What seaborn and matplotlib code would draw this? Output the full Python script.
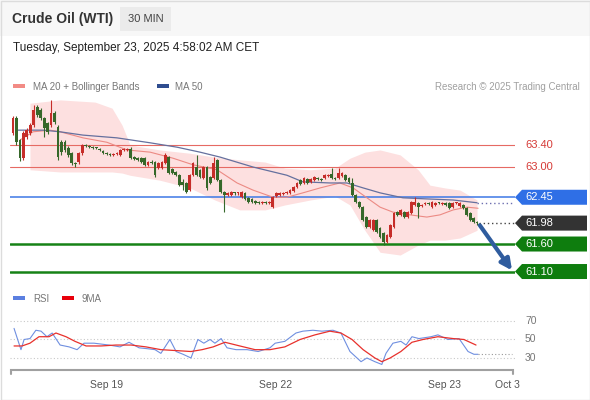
import numpy as np
import pandas as pd
import matplotlib

matplotlib.use('Agg')
import matplotlib.pyplot as plt
import seaborn as sns
from matplotlib.patches import Rectangle, Polygon

# ==========================================
# data (30 min candles, WTI)
# ==========================================
opens = [63.62, 63.89, 63.49, 63.16, 63.55, 63.62, 63.76, 64.09, 64.04, 63.89,
         63.80, 63.76, 63.98, 63.73, 63.45, 63.45, 63.35, 63.25, 63.07, 63.09,
         63.25, 63.40, 63.38, 63.36, 63.35, 63.33, 63.29, 63.25, 63.23, 63.22,
         63.24, 63.22, 63.31, 63.31, 63.33, 63.18, 63.16, 63.16, 63.16, 63.04,
         63.08, 63.09, 62.98, 62.98, 63.07, 63.18, 62.96, 62.91, 62.85, 62.73,
         62.71, 62.58, 62.85, 63.00, 62.95, 62.80, 63.00, 62.82, 62.80, 63.13,
         62.76, 62.55, 62.49, 62.49, 62.53, 62.52, 62.45, 62.53, 62.44, 62.42,
         62.38, 62.36, 62.35, 62.36, 62.35, 62.27, 62.47, 62.49, 62.51, 62.53,
         62.53, 62.56, 62.64, 62.76, 62.71, 62.78, 62.73, 62.76, 62.80, 62.78,
         62.80, 62.84, 62.87, 62.80, 62.80, 62.84, 62.85, 62.80, 62.71, 62.49,
         62.36, 62.27, 62.09, 61.91, 61.85, 62.04, 61.89, 61.80, 61.64, 61.73,
         61.91, 62.18, 62.13, 62.18, 62.09, 62.16, 62.31, 62.35, 62.29, 62.33,
         62.34, 62.27, 62.31, 62.35, 62.33, 62.35, 62.35, 62.27, 62.34, 62.29,
         62.31, 62.25, 62.16, 62.07, 62.00]
highs = [63.93, 63.93, 63.51, 63.65, 63.71, 63.80, 64.13, 64.13, 64.07, 63.91,
         63.82, 64.22, 64.02, 63.76, 63.49, 63.49, 63.38, 63.27, 63.09, 63.27,
         63.42, 63.42, 63.40, 63.38, 63.37, 63.35, 63.31, 63.27, 63.25, 63.26,
         63.28, 63.33, 63.34, 63.35, 63.36, 63.20, 63.18, 63.18, 63.18, 63.11,
         63.13, 63.11, 63.09, 63.11, 63.25, 63.20, 62.98, 62.93, 62.87, 62.78,
         62.73, 62.87, 63.09, 63.22, 62.97, 63.02, 63.02, 62.84, 63.18, 63.15,
         62.78, 62.57, 62.54, 62.57, 62.55, 62.55, 62.57, 62.55, 62.46, 62.44,
         62.40, 62.38, 62.38, 62.38, 62.38, 62.47, 62.55, 62.55, 62.55, 62.57,
         62.60, 62.66, 62.73, 62.78, 62.82, 62.80, 62.80, 62.84, 62.82, 62.80,
         62.87, 62.87, 62.98, 62.82, 62.98, 62.91, 62.87, 62.82, 62.80, 62.51,
         62.38, 62.29, 62.11, 62.06, 62.06, 62.06, 61.91, 61.82, 61.78, 61.97,
         62.18, 62.20, 62.24, 62.20, 62.20, 62.38, 62.45, 62.37, 62.33, 62.36,
         62.36, 62.38, 62.37, 62.37, 62.37, 62.37, 62.37, 62.37, 62.37, 62.37,
         62.33, 62.27, 62.18, 62.09, 62.02]
lows = [63.58, 63.40, 63.11, 63.13, 63.51, 63.58, 63.73, 63.91, 63.85, 63.55,
        63.60, 63.73, 63.78, 63.13, 63.22, 63.27, 63.18, 63.04, 63.00, 63.05,
        63.22, 63.36, 63.34, 63.33, 63.32, 63.29, 63.23, 63.22, 63.20, 63.20,
        63.22, 63.20, 63.29, 63.29, 63.15, 63.13, 63.11, 63.07, 63.02, 63.02,
        63.05, 62.82, 62.96, 62.96, 63.05, 62.87, 62.87, 62.83, 62.65, 62.58,
        62.53, 62.56, 62.83, 62.83, 62.80, 62.78, 62.58, 62.69, 62.78, 62.74,
        62.53, 62.18, 62.47, 62.47, 62.50, 62.50, 62.43, 62.40, 62.34, 62.34,
        62.33, 62.33, 62.33, 62.33, 62.33, 62.25, 62.45, 62.47, 62.49, 62.51,
        62.51, 62.54, 62.62, 62.67, 62.69, 62.69, 62.71, 62.74, 62.76, 62.74,
        62.78, 62.82, 62.78, 62.76, 62.78, 62.82, 62.74, 62.71, 62.47, 62.34,
        62.25, 62.02, 61.89, 61.89, 61.83, 61.80, 61.71, 61.58, 61.62, 61.71,
        61.89, 62.11, 62.11, 62.07, 62.07, 62.14, 62.29, 62.07, 62.27, 62.31,
        62.31, 62.25, 62.29, 62.32, 62.31, 62.29, 62.23, 62.25, 62.32, 62.27,
        62.23, 62.11, 62.02, 61.98, 61.95]
closes = [63.89, 63.45, 63.16, 63.62, 63.67, 63.76, 64.04, 63.95, 63.89, 63.71,
          63.64, 63.98, 63.82, 63.18, 63.27, 63.31, 63.22, 63.07, 63.05, 63.25,
          63.40, 63.38, 63.36, 63.35, 63.34, 63.31, 63.25, 63.24, 63.22, 63.24,
          63.26, 63.31, 63.32, 63.33, 63.16, 63.15, 63.13, 63.09, 63.04, 63.09,
          63.07, 62.85, 63.07, 63.09, 63.22, 62.89, 62.89, 62.85, 62.67, 62.67,
          62.55, 62.85, 63.07, 62.85, 62.82, 63.00, 62.62, 62.71, 63.07, 62.76,
          62.55, 62.49, 62.52, 62.55, 62.52, 62.53, 62.55, 62.42, 62.36, 62.36,
          62.35, 62.35, 62.36, 62.35, 62.36, 62.45, 62.53, 62.53, 62.53, 62.55,
          62.58, 62.64, 62.71, 62.69, 62.80, 62.71, 62.78, 62.82, 62.78, 62.76,
          62.85, 62.85, 62.80, 62.78, 62.89, 62.89, 62.76, 62.73, 62.49, 62.36,
          62.27, 62.04, 61.91, 62.04, 62.04, 61.82, 61.73, 61.64, 61.76, 61.95,
          62.16, 62.13, 62.22, 62.09, 62.18, 62.36, 62.36, 62.27, 62.31, 62.34,
          62.33, 62.36, 62.35, 62.34, 62.35, 62.31, 62.25, 62.35, 62.35, 62.35,
          62.25, 62.13, 62.04, 62.00, 61.98]

# moving averages / bollinger, read at candle positions
ma50_x = [1.4, 8.7, 13.6, 20.2, 30.0, 39.6, 47.4, 54.0, 59.8, 69.3, 79.1, 83.7,
          91.5, 96.4, 101.1, 106.0, 112.6, 119.5, 127.1, 134.0]
ma50 = [63.67, 63.67, 63.64, 63.58, 63.53, 63.44, 63.36, 63.27, 63.18, 63.00, 62.85, 62.73,
        62.71, 62.71, 62.62, 62.53, 62.44, 62.42, 62.40, 62.35]
ma20_x = [2.0, 5.8, 10.7, 13.6, 20.2, 27.1, 32.9, 39.6, 46.2, 52.0, 58.9, 64.7, 69.3, 75.1,
          79.1, 83.7, 88.7, 94.4, 98.2, 102.2, 106.0, 109.7, 114.6, 119.5, 123.3, 127.1,
          131.1, 134.3]
ma20 = [63.49, 63.64, 63.67, 63.64, 63.53, 63.45, 63.31, 63.27, 63.16, 63.04, 62.95, 62.71,
        62.58, 62.45, 62.45, 62.53, 62.62, 62.71, 62.62, 62.44, 62.27, 62.18, 62.13, 62.09,
        62.13, 62.22, 62.27, 62.25]
bb_x = [4.9, 13.6, 23.7, 28.6, 31.5, 33.8, 42.4, 51.1, 58.3, 65.5, 72.8, 78.5, 85.8, 93.0,
        97.3, 101.6, 106.0, 111.8, 117.0, 120.4, 124.7, 129.1, 134.0]
bb_upper = [64.16, 64.22, 64.18, 64.07, 63.76, 63.40, 63.31, 63.25, 63.18, 63.13, 63.09, 62.98,
            62.95, 62.98, 63.16, 63.27, 63.31, 63.22, 62.95, 62.67, 62.62, 62.58, 62.40]
bb_lower = [62.95, 62.91, 62.91, 62.91, 62.89, 62.85, 62.76, 62.62, 62.40, 62.22, 62.22, 62.31,
            62.40, 62.47, 62.31, 61.85, 61.45, 61.40, 61.58, 61.67, 61.67, 61.71, 61.85]

# RSI panel
rsi_x = [0.3, 2.3, 3.2, 4.9, 6.6, 8.1, 9.8, 11.3, 13.6, 16.2, 18.5, 20.5, 23.4, 27.7, 30.9,
         33.5, 36.4, 38.9, 41.0, 42.7, 45.3, 47.1, 49.1, 51.4, 53.4, 55.1, 56.9, 58.3, 60.1,
         61.8, 64.4, 67.6, 70.8, 74.2, 75.7, 78.5, 81.7, 83.7, 86.6, 89.2, 92.4, 94.7, 97.3,
         100.5, 102.2, 104.5, 106.5, 107.7, 109.7, 112.0, 113.5, 115.2, 117.2, 120.7, 122.7,
         125.6, 128.8, 131.4, 133.1, 134.3]
rsi = [62, 39, 50, 51, 60, 59, 53, 57, 44, 42, 39, 46, 46, 44, 42, 47, 41, 40, 39, 35, 50, 37,
       34, 30, 50, 46, 50, 46, 51, 41, 39, 39, 37, 41, 46, 48, 57, 59, 60, 59, 60, 57, 37, 26,
       30, 26, 23, 35, 46, 48, 44, 53, 51, 53, 55, 50, 51, 37, 34, 34]
rsi_ma_x = [0.3, 2.6, 4.9, 7.5, 10.4, 12.4, 15.3, 17.9, 21.1, 25.4, 29.7, 34.1, 38.4, 42.7,
            47.1, 51.4, 54.6, 57.8, 61.2, 65.5, 69.9, 74.2, 78.5, 82.9, 87.2, 91.5, 94.7, 97.9,
            101.1, 104.5, 106.5, 108.9, 112.0, 115.2, 118.4, 122.7, 127.1, 130.2, 133.7]
rsi_ma = [43, 43, 46, 53, 53, 57, 53, 48, 43, 43, 44, 44, 42, 39, 38, 37, 39, 42, 47, 43, 39,
          39, 42, 50, 55, 59, 57, 50, 39, 30, 26, 30, 37, 47, 50, 53, 51, 50, 44]
rsi_levels = [70, 50, 30]

# key levels
resistances = [63.40, 63.00]
pivot = 62.45
last_price = 61.98
supports = [61.60, 61.10]

tick_pos = [27.1, 75.9, 124.5, 142.9]
tick_labels = ['Sep 19', 'Sep 22', 'Sep 23', 'Oct 3']

# ==========================================
# style
# ==========================================
sns.set_theme(style="white")
plt.rcParams['font.family'] = ['Liberation Sans', 'DejaVu Sans']

UP, DOWN = '#c62d29', '#36682a'
RED_LVL, BLUE_LVL, GREEN_LVL = '#e66a63', '#3d78e6', '#168216'
X_LIM = (-0.87, 144.96)

W, H = 590, 400
fig = plt.figure(figsize=(W / 100, H / 100), dpi=100)


def frac(x0, y0, x1, y1):
    return [x0 / W, 1 - y1 / H, (x1 - x0) / W, (y1 - y0) / H]


ax = fig.add_axes(frac(10, 95, 515, 285))
ax_rsi = fig.add_axes(frac(10, 310, 515, 370))
ov = fig.add_axes([0, 0, 1, 1])
ov.set_xlim(0, W)
ov.set_ylim(H, 0)
ov.axis('off')
ov.set_zorder(10)
ov.patch.set_alpha(0)

for a in (ax, ax_rsi):
    a.set_facecolor('none')
    a.set_xlim(*X_LIM)
    for s in a.spines.values():
        s.set_visible(False)

ax.set_ylim(60.855, 64.309)
ax_rsi.set_ylim(17.0, 81.9)

# ==========================================
# main price panel
# ==========================================
ax.fill_between(bb_x, bb_lower, bb_upper, color='#fde0e0', lw=0, zorder=0)

for lv in resistances:
    ax.axhline(lv, color=RED_LVL, lw=0.8, zorder=1)
ax.axhline(pivot, color=BLUE_LVL, lw=1.1, zorder=1)
for lv in supports:
    ax.axhline(lv, color=GREEN_LVL, lw=1.8, zorder=1)

sns.lineplot(x=ma20_x, y=ma20, ax=ax, color='#ec8a84', lw=0.8, zorder=2)
sns.lineplot(x=ma50_x, y=ma50, ax=ax, color='#65709e', lw=0.9, zorder=2)

df = pd.DataFrame({'o': opens, 'h': highs, 'l': lows, 'c': closes})
df['i'] = np.arange(len(df))
cols = np.where(df['c'] >= df['o'], UP, DOWN)
ax.vlines(df['i'], df['l'], df['h'], colors=cols, lw=0.8, zorder=3)
body = (df['c'] - df['o']).abs().clip(lower=0.018)
ax.bar(df['i'], body, bottom=df[['o', 'c']].min(axis=1), width=0.8, color=cols, lw=0, zorder=4)

# dotted projections to the label column
last_i = df['i'].iloc[-1]
ax.plot([ma50_x[-1], X_LIM[1]], [ma50[-1], ma50[-1]], ls=(0, (1, 2)), color='#6d6fb0', lw=1, zorder=2)
ax.plot([last_i + 0.5, X_LIM[1]], [closes[-1], closes[-1]], ls=(0, (1, 2)), color='#444', lw=1, zorder=2)

ax.annotate('', xy=(144.1, supports[1] + 0.02), xytext=(last_i + 0.8, closes[-1] - 0.04),
            arrowprops=dict(arrowstyle='-|>', color='#2f5c9e', lw=3, mutation_scale=16,
                            shrinkA=0, shrinkB=0), zorder=6)
ax.set_xticks([])
ax.set_yticks([])
ax.set_xlabel('')
ax.set_ylabel('')

# ==========================================
# RSI panel
# ==========================================
for lv in rsi_levels:
    ax_rsi.axhline(lv, color='#c9c9c9', ls=(0, (1, 2)), lw=0.8, zorder=0)
sns.lineplot(x=rsi_x, y=rsi, ax=ax_rsi, color='#6f8fe0', lw=0.8, zorder=2)
sns.lineplot(x=rsi_ma_x, y=rsi_ma, ax=ax_rsi, color='#e8312c', lw=0.9, zorder=3)
ax_rsi.plot([rsi_x[-1], 144.1], [rsi[-1], rsi[-1]], ls=(0, (1, 2)), color='#999', lw=0.8)
ax_rsi.set_yticks([])
ax_rsi.set_xticks(tick_pos, tick_labels)
ax_rsi.tick_params(axis='x', length=0, labelsize=7.5, labelcolor='#555', pad=7)
ax_rsi.set_xlabel('')
ax_rsi.set_ylabel('')


def to_px(a, x, y):
    d = a.transData.transform((x, y))
    return ov.transData.inverted().transform(d)


# ==========================================
# overlay: header, legends, level labels
# ==========================================
ov.add_patch(Rectangle((0, 0), W, 36, fc='#f7f7f7', ec='none'))
ov.add_patch(Rectangle((120, 7), 51, 24, fc='#ebebeb', ec='none'))
ov.add_patch(Rectangle((0.5, 0.5), W - 1, H - 1, fill=False, ec='#dcdcdc', lw=1))
ov.text(12, 19.5, 'Crude Oil (WTI)', fontsize=10, weight='bold', color='#333', va='center')
ov.text(145.5, 19.5, '30 MIN', fontsize=8, color='#444', va='center', ha='center')
ov.text(13, 48, 'Tuesday, September 23, 2025 4:58:02 AM CET', fontsize=8.5, color='#222', va='center')

ov.add_patch(Rectangle((13, 84), 12, 4, fc='#f28b85', ec='none'))
ov.text(33, 86.5, 'MA 20 + Bollinger Bands', fontsize=7, color='#777', va='center')
ov.add_patch(Rectangle((157, 84), 12, 4, fc='#2f4d8f', ec='none'))
ov.text(175, 86.5, 'MA 50', fontsize=7, color='#777', va='center')
ov.text(580, 86.5, 'Research \u00a9 2025 Trading Central', fontsize=7, color='#a0a0a0',
        va='center', ha='right')

ov.add_patch(Rectangle((13, 296), 12, 4, fc='#5b7fe0', ec='none'))
ov.text(33, 298.5, 'RSI', fontsize=7, color='#777', va='center')
ov.add_patch(Rectangle((62, 296), 12, 4, fc='#e8000b', ec='none'))
ov.text(81, 298.5, '9MA', fontsize=7, color='#777', va='center')

for lv in resistances:
    _, yp = to_px(ax, 0, lv)
    ov.text(525, yp, f'{lv:.2f}', fontsize=8, color='#d63a36', va='center')

boxes = [(pivot, '#2f6fe6'), (last_price, '#333333'), (supports[0], '#0e7d0e'), (supports[1], '#0e7d0e')]
for lv, fc in boxes:
    _, yp = to_px(ax, 0, lv)
    ov.add_patch(Polygon([(515, yp), (522, yp - 7.5), (587, yp - 7.5), (587, yp + 7.5), (522, yp + 7.5)],
                         closed=True, fc=fc, ec='none'))
    ov.text(525, yp, f'{lv:.2f}', fontsize=8, color='white', va='center')

for lv in rsi_levels:
    _, yp = to_px(ax_rsi, 0, lv)
    ov.text(525, yp, str(lv), fontsize=7.5, color='#777', va='center')

# bottom bracket axis
ov.plot([11, 11, 513, 513], [374, 370, 370, 374], color='#a0a0a0', lw=1.5, solid_joinstyle='miter')

fig.savefig('out.png', dpi=100)
plt.close(fig)
